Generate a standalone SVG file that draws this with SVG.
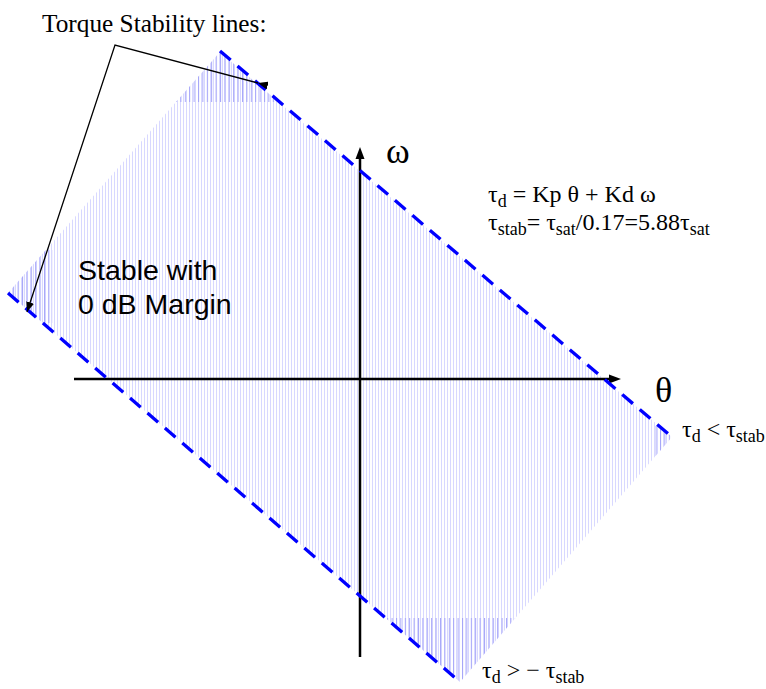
<svg xmlns="http://www.w3.org/2000/svg" width="766" height="689" viewBox="0 0 766 689">
<style>
.serif{font-family:"Liberation Serif","Times New Roman",serif;fill:#000}
.sans{font-family:"Liberation Sans",Arial,sans-serif;fill:#000}
.dash{fill:none;stroke:#0000ff;stroke-width:3.3;stroke-dasharray:14 9}
.axis{stroke:#000;stroke-width:2.5;fill:none}
.ptr{stroke:#000;stroke-width:1.3;fill:none}
</style>
<defs>
<pattern id="hatchFaint" width="3" height="10" patternUnits="userSpaceOnUse"><rect x="0" y="0" width="1" height="10" fill="#d8d8ff"/></pattern>
<pattern id="hatchStrong" width="4.4" height="10" patternUnits="userSpaceOnUse"><rect x="0" y="0" width="1" height="10" fill="#a4a4f8"/></pattern>
<clipPath id="regionClip"><polygon points="220,52 672,437 460,682 8,293"/></clipPath>
<marker id="ptrHead" viewBox="0 0 10 8" refX="10" refY="4" markerWidth="10" markerHeight="8" markerUnits="userSpaceOnUse" orient="auto"><polygon points="0,0 10,4 0,8" fill="#000"/></marker>
</defs>

<g id="stable-region">
<polygon points="220,52 672,437 460,682 8,293" fill="url(#hatchFaint)"/>
<g clip-path="url(#regionClip)">
<rect x="150" y="40" width="160" height="62" fill="url(#hatchStrong)"/>
<rect x="370" y="618" width="160" height="70" fill="url(#hatchStrong)"/>
<rect x="0" y="250" width="53" height="73" fill="url(#hatchStrong)"/>
<rect x="655" y="426" width="30" height="30" fill="url(#hatchStrong)"/>
</g>
</g>

<g id="axes">
<line class="axis" x1="360" y1="657" x2="360" y2="156"/>
<polygon points="360,147 364.5,159 355.5,159" fill="#000"/>
<line class="axis" x1="74" y1="379" x2="611" y2="379"/>
<polygon points="621,379 609,374.5 609,383.5" fill="#000"/>
<text class="serif" x="386" y="163" font-size="36">ω</text>
<text class="serif" x="655" y="402" font-size="36">θ</text>
</g>

<g id="stability-lines">
<line class="dash" x1="220" y1="51" x2="672" y2="437"/>
<line class="dash" x1="8" y1="293" x2="460" y2="682"/>
</g>

<g id="connectors">
<polyline class="ptr" points="258,83 115,45 27,312" marker-start="url(#ptrHead)" marker-end="url(#ptrHead)"/>
</g>

<g id="label-torque">
<text class="serif" x="42" y="32" font-size="25.3">Torque Stability lines:</text>
</g>

<g id="label-stable">
<text class="sans" x="78" y="280" font-size="28.5">Stable with</text>
<text class="sans" x="78" y="314" font-size="28.5">0 dB Margin</text>
</g>

<g id="label-equations" class="serif" font-size="24">
<text x="488" y="202">τ<tspan font-size="18" dy="5">d</tspan><tspan dy="-5"> = Kp θ + Kd ω</tspan></text>
<text x="488" y="230">τ<tspan font-size="18" dy="5">stab</tspan><tspan dy="-5">= τ</tspan><tspan font-size="18" dy="5">sat</tspan><tspan dy="-5">/0.17=5.88τ</tspan><tspan font-size="18" dy="5">sat</tspan></text>
</g>

<g id="label-upper-bound" class="serif" font-size="24">
<text x="682" y="437">τ<tspan font-size="18" dy="5">d</tspan><tspan dy="-5"> &lt; τ</tspan><tspan font-size="18" dy="5">stab</tspan></text>
</g>

<g id="label-lower-bound" class="serif" font-size="24">
<text x="482" y="678">τ<tspan font-size="18" dy="5">d</tspan><tspan dy="-5"> &gt; − τ</tspan><tspan font-size="18" dy="5">stab</tspan></text>
</g>
</svg>
